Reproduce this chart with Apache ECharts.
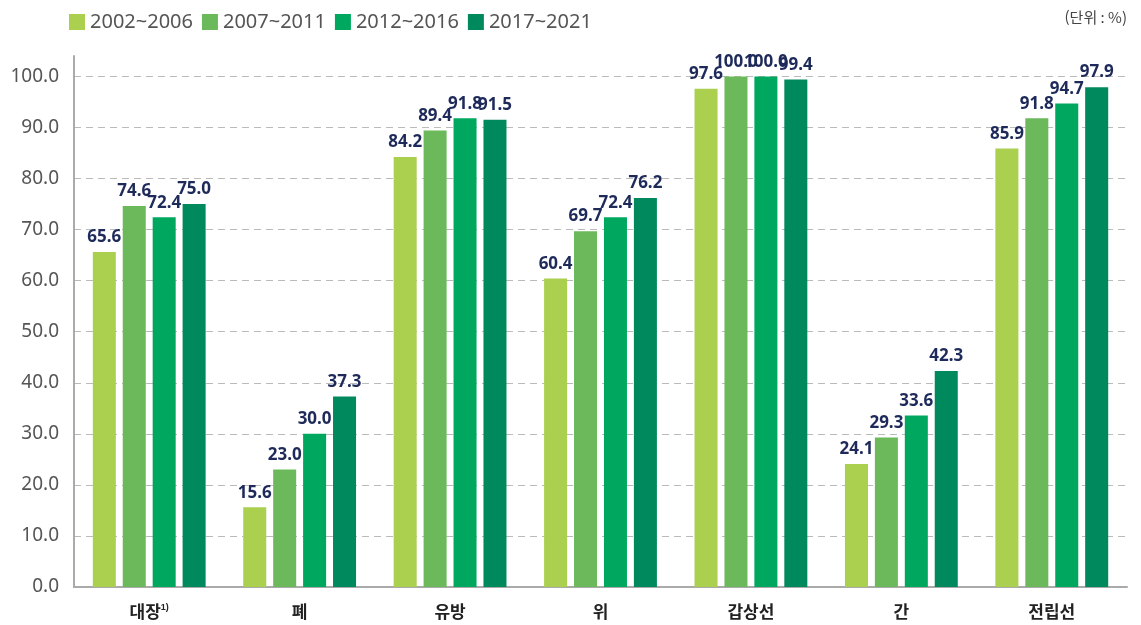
<!DOCTYPE html>
<html lang="ko">
<head>
<meta charset="UTF-8">
<title>암 종류별 생존율</title>
<script src="https://cdn.jsdelivr.net/npm/echarts@6/dist/echarts.min.js"></script>
<style>
  html, body { margin: 0; padding: 0; background: #fff; }
  #main { width: 1141px; height: 625px; }
</style>
</head>
<body>
<div id="main"></div>
<script>
    // 데이터
    var categories = ['대장', '폐', '유방', '위', '갑상선', '간', '전립선'];
    var periods = ['2002~2006', '2007~2011', '2012~2016', '2017~2021'];
    var p2002 = [65.6, 15.6, 84.2, 60.4, 97.6, 24.1, 85.9];
    var p2007 = [74.6, 23.0, 89.4, 69.7, 100.0, 29.3, 91.8];
    var p2012 = [72.4, 30.0, 91.8, 72.4, 100.0, 33.6, 94.7];
    var p2017 = [75.0, 37.3, 91.5, 76.2, 99.4, 42.3, 97.9];
    var colors = ['#abcf4f', '#6cb95b', '#00a85f', '#00895c'];

    var myChart = echarts.init(document.getElementById('main'));

    var seriesData = [p2002, p2007, p2012, p2017];
    var series = seriesData.map(function (d, i) {
        return {
            name: periods[i],
            type: 'bar',
            data: d,
            barGap: '30%',
            barCategoryGap: '25%',
            itemStyle: { color: colors[i] },
            label: {
                show: true,
                position: 'top',
                distance: 6,
                color: '#1e2a5a',
                fontSize: 17,
                fontWeight: 'bold',
                fontFamily: 'Noto Sans',
                formatter: function (p) { return p.value.toFixed(1); }
            }
        };
    });

    var option = {
        animation: false,
        color: colors,
        legend: {
            left: 64,
            top: 7,
            itemWidth: 16,
            itemHeight: 16,
            itemGap: 9,
            icon: 'rect',
            textStyle: { fontSize: 20, color: '#555', fontFamily: 'Noto Sans' },
            data: periods
        },
        graphic: [{
            type: 'text',
            right: 14,
            top: 10,
            style: { text: '(단위 : %)', fontSize: 15, fill: '#444', fontFamily: 'Noto Sans CJK KR' }
        }],
        grid: { left: 74, right: 14, top: 56, bottom: 38 },
        xAxis: {
            type: 'category',
            data: categories,
            axisLine: { lineStyle: { color: '#aaa', width: 2 } },
            axisTick: { show: false },
            axisLabel: {
                margin: 16,
                formatter: function (v) {
                    return v === '대장' ? '{a|대장}{s|1)}' : '{a|' + v + '}';
                },
                rich: {
                    a: { fontSize: 17, fontWeight: 'bold', color: '#222', fontFamily: 'Noto Sans CJK KR' },
                    s: { fontSize: 9, fontWeight: 'bold', color: '#222', verticalAlign: 'top', padding: [0, 0, 8, 0] }
                }
            }
        },
        yAxis: {
            type: 'value',
            min: 0,
            max: 104,
            interval: 10,
            axisLine: { show: true, lineStyle: { color: '#aaa', width: 2 } },
            axisTick: { show: false },
            splitLine: { showMaxLine: false, lineStyle: { color: '#bbb', type: [7, 5], width: 1 } },
            axisLabel: {
                margin: 15,
                fontSize: 19,
                color: '#555',
                fontFamily: 'Noto Sans',
                formatter: function (v) { return v > 100 ? '' : v.toFixed(1); }
            }
        },
        series: series
    };

    myChart.setOption(option);
</script>
</body>
</html>
